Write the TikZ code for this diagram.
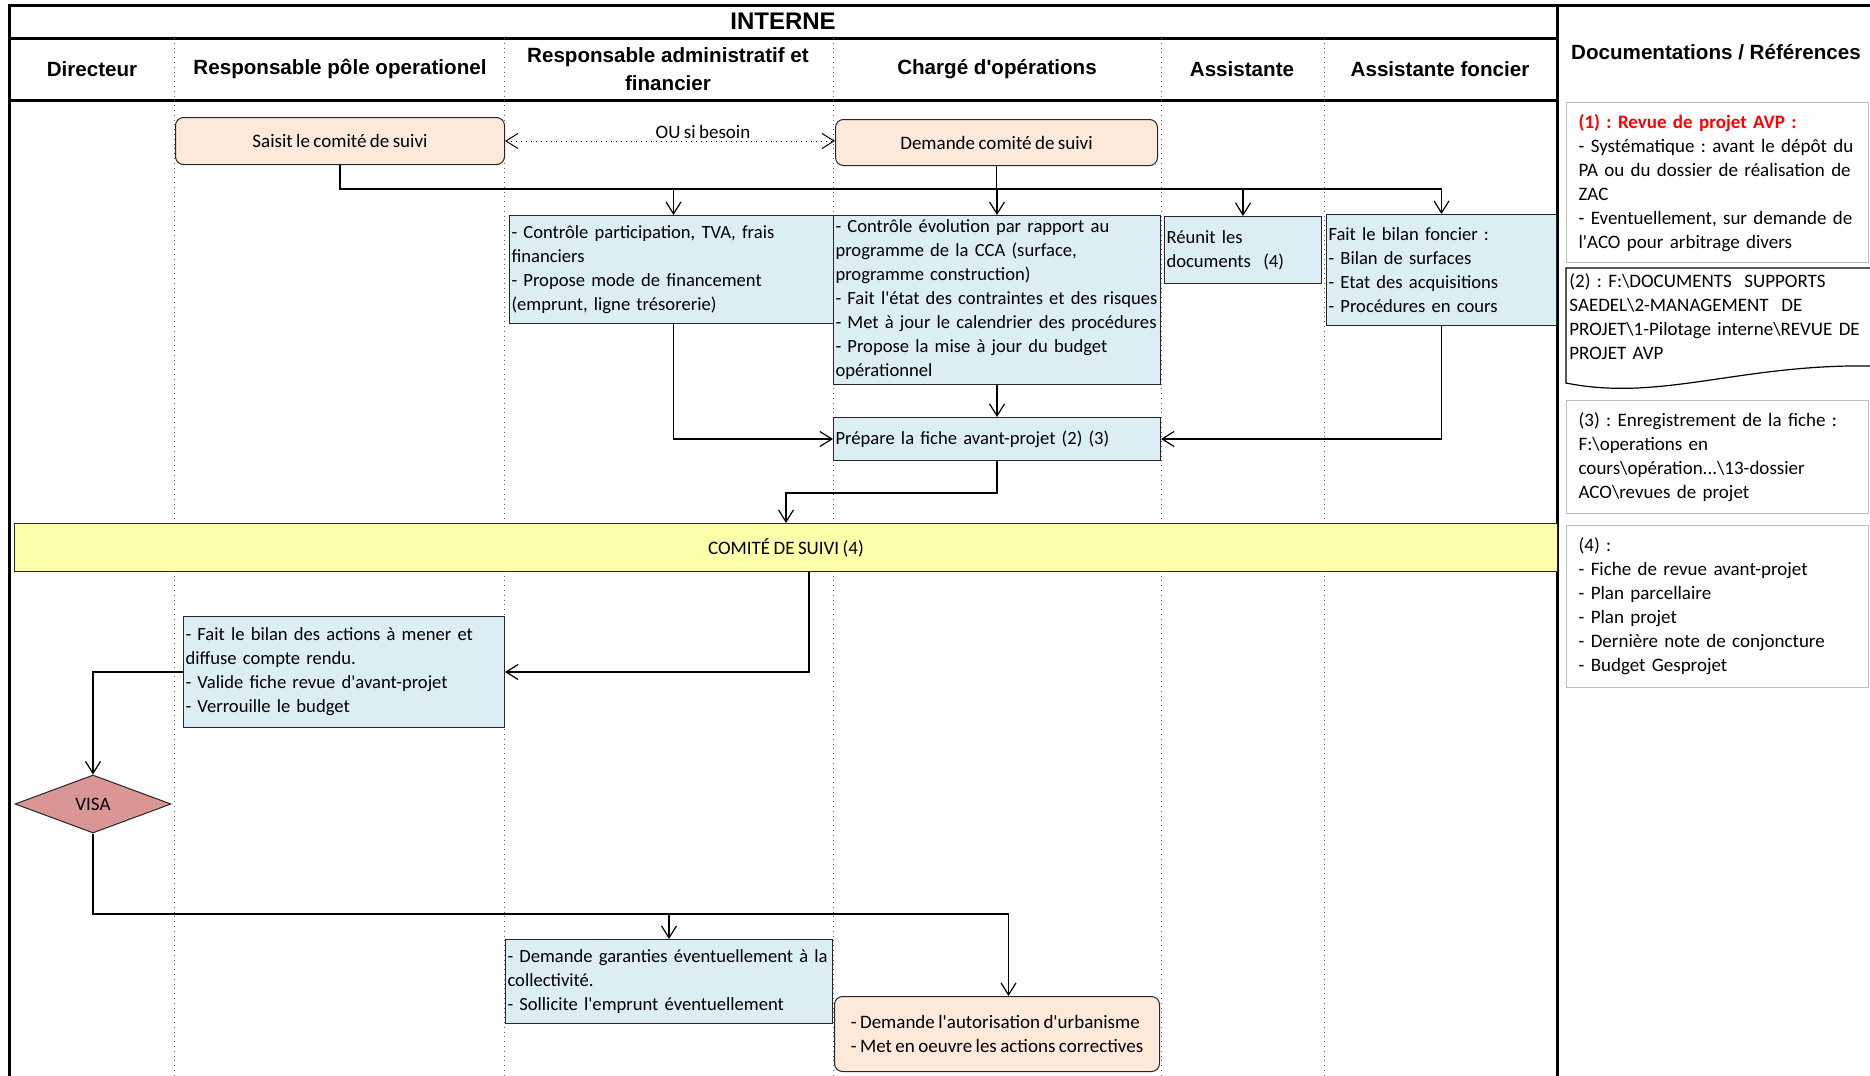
\documentclass[tikz,border=0pt]{standalone}
\usepackage{fontspec}
\setmainfont{Carlito}[WordSpace=0.8]
\setsansfont{Liberation Sans}
\usetikzlibrary{shapes.geometric, arrows.meta, positioning}
\definecolor{boxblue}{RGB}{218,238,243}
\definecolor{boxpeach}{RGB}{253,233,217}
\definecolor{comiteyellow}{RGB}{255,255,170}
\definecolor{visared}{RGB}{217,150,148}
\definecolor{docgray}{RGB}{191,191,191}
\newcommand{\bksl}{\textbackslash{}}
\newcommand{\apos}{\textquotesingle}
\frenchspacing
\hyphenpenalty=10000
\exhyphenpenalty=10000

\begin{document}
\begin{tikzpicture}[x=0.5pt, y=-0.5pt,
  every node/.style={font=\fontsize{9.5}{12}\selectfont},
  outerline/.style={line width=1.5pt},
  laneline/.style={dotted, draw=black!60, line width=0.4pt},
  headtext/.style={font=\sffamily\bfseries\fontsize{10.3}{14}\selectfont, align=center},
  bluebox/.style={draw=black!85, fill=boxblue, line width=0.5pt, inner xsep=1pt, inner ysep=1.5pt,
    font=\fontsize{9.3}{12}\selectfont, align=left, anchor=north west},
  peachbox/.style={draw=black!85, fill=boxpeach, line width=0.5pt, rounded corners=4pt, align=left, anchor=north west},
  docbox/.style={draw=docgray, fill=white, line width=0.6pt, inner xsep=6pt, inner ysep=2pt, align=left, anchor=north west},
  flowline/.style={draw, line width=0.6pt},
  flowarrow/.style={flowline, -{Straight Barb[length=6pt, width=7.5pt]}}]
  \useasboundingbox (0,0) rectangle (1870,1076);
  % Frame and lanes
  \draw[outerline] (9,1076) -- (9,5) -- (1870,5);
  \draw[outerline] (1557,5) -- (1557,1076);
  \draw[outerline] (9,38) -- (1557,38);
  \draw[outerline] (9,100) -- (1557,100);
  \foreach \x in {174,504,833,1161,1324}
    \draw[laneline] (\x,38) -- (\x,1076);
  % Headers
  \node[headtext, font=\sffamily\bfseries\fontsize{12}{14}\selectfont] (hint) at (783,21) {INTERNE};
  \node[headtext] (hdir) at (92,69) {Directeur};
  \node[headtext] (hrpo) at (340,69) {Responsable pôle operationel};
  \node[headtext] (hraf) at (668,69) {Responsable administratif et\\financier};
  \node[headtext] (hco) at (997,69) {Chargé d\apos opérations};
  \node[headtext] (hass) at (1242,69) {Assistante};
  \node[headtext] (hfon) at (1440,69) {Assistante foncier};
  \node[headtext] (hdoc) at (1716,52) {Documentations / Références};
  % Steps
  \node[peachbox, minimum width=164.5pt, minimum height=23.5pt, align=center] (saisit) at (175,117) {Saisit le comité de suivi};
  \node[peachbox, minimum width=161pt, minimum height=23pt, align=center] (demande) at (835,119) {Demande comité de suivi};
  \node[bluebox, minimum width=164pt, minimum height=54pt, text width=162pt] (raf) at (509,215)
    {- Contrôle participation, TVA, frais\\financiers\\- Propose mode de financement\\(emprunt, ligne trésorerie)};
  \node[bluebox, minimum width=163.5pt, minimum height=84.5pt, text width=161.5pt] (co) at (833,215)
    {- Contrôle évolution par rapport au\\programme de la CCA (surface,\\programme construction)\\- Fait l\apos état des contraintes et des risques\\- Met à jour le calendrier des procédures\\- Propose la mise à jour du budget\\opérationnel};
  \node[bluebox, minimum width=78.5pt, minimum height=33.5pt, text width=76.5pt] (reunit) at (1164,216)
    {Réunit les\\documents~ (4)};
  \node[bluebox, minimum width=115pt, minimum height=55.5pt, text width=113pt] (foncier) at (1326,214)
    {Fait le bilan foncier :\\- Bilan de surfaces\\- Etat des acquisitions\\- Procédures en cours};
  \node[bluebox, minimum width=163.5pt, minimum height=21.5pt, text width=161.5pt] (prepare) at (833,417)
    {Prépare la fiche avant-projet (2) (3)};
  \node[draw=black!85, fill=comiteyellow, line width=0.5pt, anchor=north west, minimum width=771.5pt, minimum height=24pt] (comite) at (14,523)
    {COMITÉ DE SUIVI (4)};
  \node[bluebox, minimum width=160.5pt, minimum height=55.5pt, text width=158.5pt] (bilan) at (183,616)
    {- Fait le bilan des actions à mener et\\diffuse compte rendu.\\- Valide fiche revue d\apos avant-projet\\- Verrouille le budget};
  \node[diamond, draw=black!85, fill=visared, line width=0.5pt, minimum width=78pt, minimum height=29pt, inner sep=0pt] (visa) at (93,804) {VISA};
  \node[bluebox, minimum width=163.5pt, minimum height=42pt, text width=161.5pt] (garanties) at (505,939)
    {- Demande garanties éventuellement à la\\collectivité.\\- Sollicite l\apos emprunt éventuellement};
  \node[peachbox, minimum width=162.5pt, minimum height=37.5pt] (urba) at (834,996)
    {- Demande l\apos autorisation d\apos urbanisme\\- Met en oeuvre les actions correctives};
  % Documentations
  \node[docbox, minimum width=151pt, minimum height=80pt, text width=139pt] (docone) at (1566,102)
    {{\color{red}\bfseries (1) : Revue de projet AVP :}\\- Systématique : avant le dépôt du\\PA ou du dossier de réalisation de\\ZAC\\- Eventuellement, sur demande de\\l\apos ACO pour arbitrage divers};
  \draw[line width=0.6pt] (1870,268) -- (1566,268) -- (1566,383) .. controls (1660,402) and (1740,364) .. (1870,366);
  \node[anchor=north west, align=left, text width=152pt, inner sep=1.5pt] (doctwo) at (1566,270)
    {(2) : F:\bksl DOCUMENTS~ SUPPORTS\\SAEDEL\bksl 2-MANAGEMENT~ DE\\PROJET\bksl 1-Pilotage interne\bksl REVUE DE\\PROJET AVP};
  \node[docbox, minimum width=151pt, minimum height=56.5pt, text width=139pt] (docthree) at (1566,400)
    {(3) : Enregistrement de la fiche :\\F:\bksl operations en\\cours\bksl opération...\bksl 13-dossier\\ACO\bksl revues de projet};
  \node[docbox, minimum width=151pt, minimum height=81pt, text width=139pt] (docfour) at (1566,525)
    {(4) :\\- Fiche de revue avant-projet\\- Plan parcellaire\\- Plan projet\\- Dernière note de conjoncture\\- Budget Gesprojet};
  % Connectors
  \draw[dotted, line width=0.5pt, {Straight Barb[length=6pt, width=7.5pt]}-{Straight Barb[length=6pt, width=7.5pt]}]
    (saisit.east) -- (saisit.east -| demande.west) node[pos=0.6, above, inner sep=1pt] (ou) {OU si besoin};
  \coordinate (busA) at (0,189);
  \draw[flowline, line width=0.9pt] (saisit.south) |- (busA -| foncier.north);
  \draw[flowline] (demande.south) -- (busA -| demande.south);
  \foreach \n in {raf, co, reunit, foncier}
    \draw[flowarrow] (busA -| \n.north) -- (\n.north);
  \draw[flowarrow] (raf.south) |- (prepare.west);
  \draw[flowarrow] (co.south) -- (prepare.north);
  \draw[flowarrow] (foncier.south) |- (prepare.east);
  \draw[flowarrow] (prepare.south) -- ++(0,32) -| (comite.north);
  \coordinate (comiteOut) at ([xshift=11.5pt]comite.south);
  \draw[flowarrow] (comiteOut) |- (bilan.east);
  \draw[flowarrow] (bilan.west) -| (visa.north);
  \coordinate (busB) at (0,914);
  \coordinate (urbaIn) at ([xshift=5.75pt]urba.north);
  \draw[flowline, line width=0.9pt] (visa.south) |- (busB -| urbaIn);
  \draw[flowarrow] (busB -| garanties.north) -- (garanties.north);
  \draw[flowarrow] (busB -| urbaIn) -- (urbaIn);
\end{tikzpicture}
\end{document}
